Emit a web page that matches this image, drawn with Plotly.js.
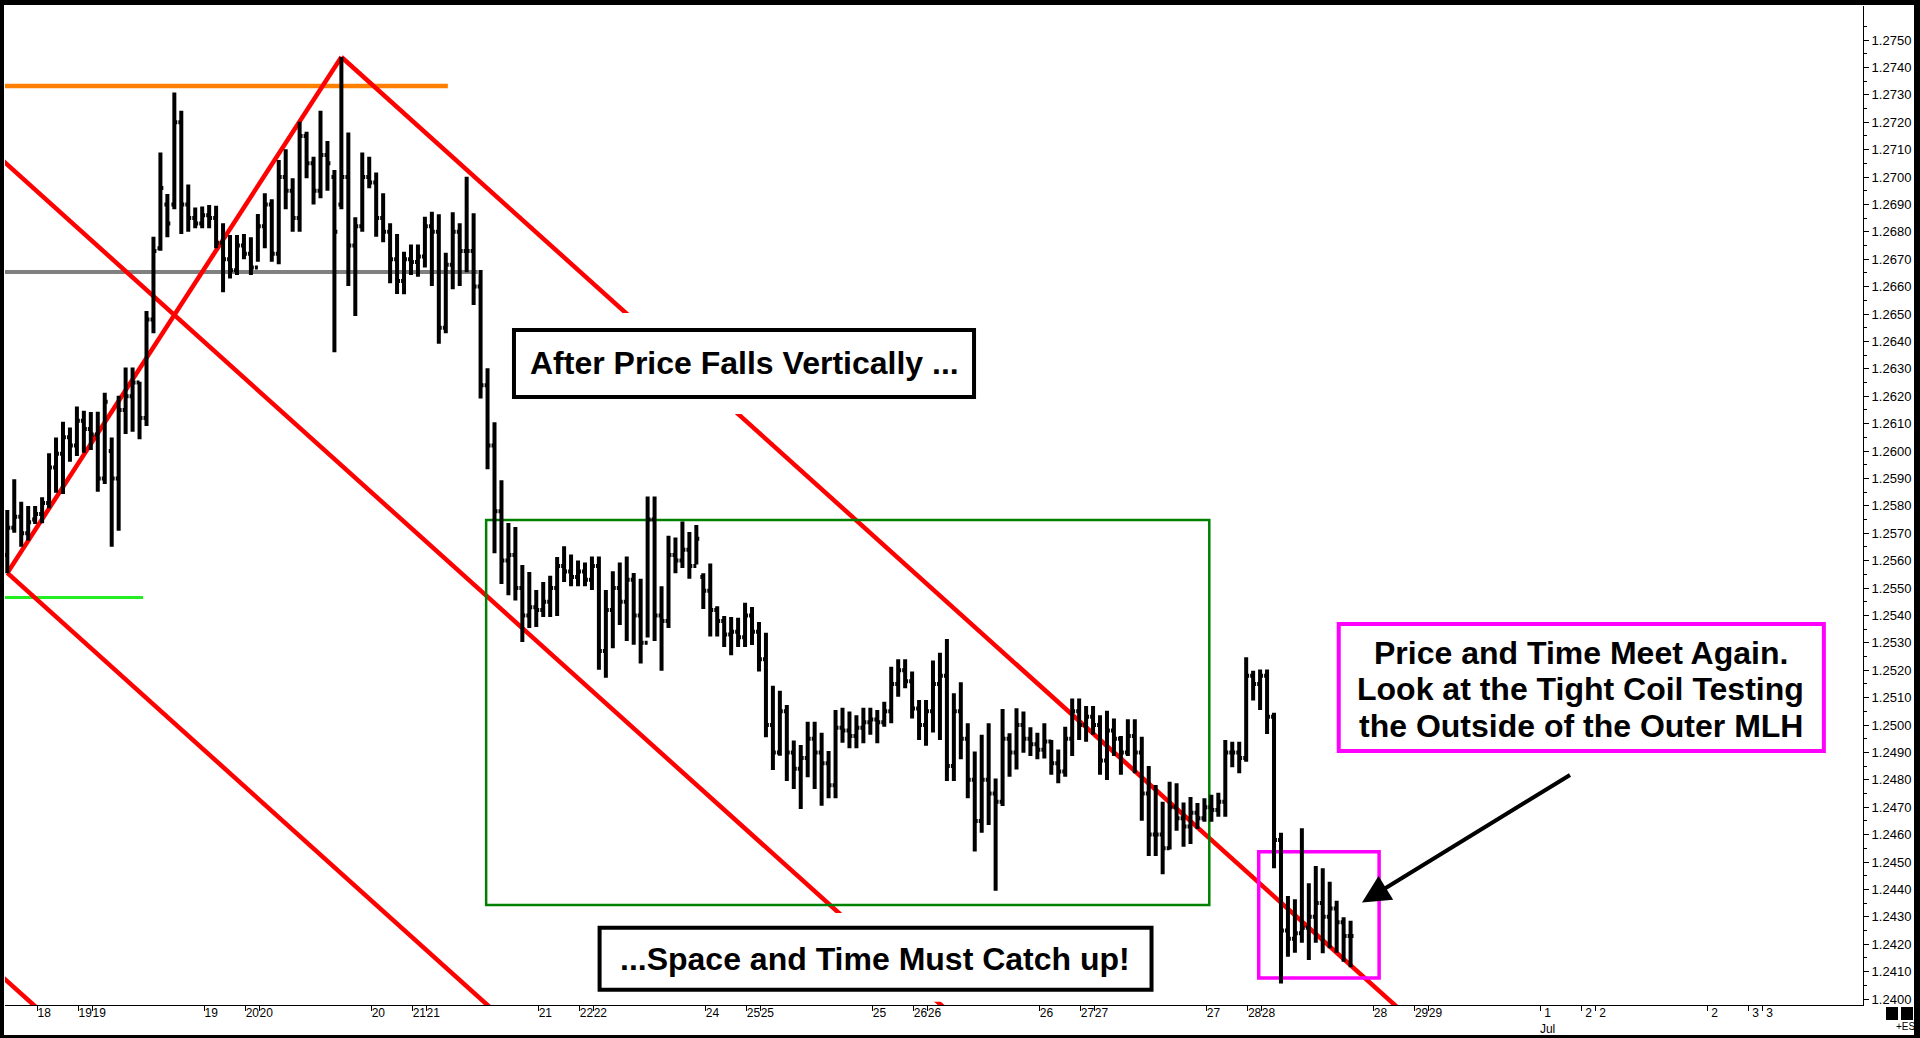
<!DOCTYPE html>
<html><head><meta charset="utf-8">
<script src="https://cdn.plot.ly/plotly-3.0.1.min.js"></script>
<style>html,body{margin:0;padding:0;background:#fff;overflow:hidden}#chart{width:1920px;height:1038px}</style>
</head><body><div id="chart"></div>
<script>
// ---------- hourly OHLC bars ----------
const highs = [
1.25785,1.25897,1.25815,1.25799,1.25799,1.25831,1.25992,1.26049,1.26107,1.26086,
1.26162,1.26147,1.26142,1.26143,1.26213,1.26049,1.26202,1.26305,1.26305,1.26253,
1.26511,1.26782,1.27089,1.26938,1.27308,1.27242,1.26973,1.26889,1.26892,1.26898,
1.26895,1.26831,1.26788,1.26788,1.26792,1.26780,1.26865,1.26941,1.26919,1.27062,
1.27101,1.26995,1.27202,1.27165,1.27074,1.27242,1.27131,1.27026,1.27438,1.27162,
1.26853,1.27089,1.27074,1.27016,1.26941,1.26831,1.26792,1.26727,1.26754,1.26754,
1.26855,1.26873,1.26864,1.26724,1.26871,1.26831,1.27001,1.26868,1.26661,1.26302,
1.26105,1.25893,1.25737,1.25723,1.25584,1.25558,1.25493,1.25522,1.25545,1.25613,
1.25652,1.25622,1.25600,1.25593,1.25615,1.25615,1.25493,1.25561,1.25593,1.25615,
1.25555,1.25534,1.25834,1.25834,1.25506,1.25691,1.25684,1.25743,1.25704,1.25730,
1.25554,1.25589,1.25433,1.25398,1.25394,1.25391,1.25446,1.25431,1.25376,1.25337,
1.25143,1.25125,1.25073,1.24943,1.24927,1.25012,1.25012,1.24972,1.24905,1.25055,
1.25063,1.25049,1.25036,1.25063,1.25063,1.25055,1.25085,1.25213,1.25240,1.25240,
1.25195,1.25091,1.25091,1.25235,1.25264,1.25314,1.25116,1.25156,1.25006,1.24903,
1.24964,1.25006,1.24805,1.25058,1.24970,1.25061,1.25049,1.24992,1.24972,1.25006,
1.24945,1.24911,1.24994,1.25097,1.25097,1.25069,1.25069,1.25036,1.25052,1.25024,
1.24960,1.25021,1.25021,1.24957,1.24850,1.24781,1.24720,1.24793,1.24787,1.24717,
1.24737,1.24715,1.24733,1.24745,1.24753,1.24945,1.24939,1.24939,1.25247,1.25198,
1.25203,1.25203,1.25045,1.24607,1.24376,1.24364,1.24623,1.24422,1.24485,1.24477,
1.24428,1.24359,1.24298,1.24286];
const lows = [
1.25554,1.25702,1.25651,1.25673,1.25734,1.25736,1.25791,1.25848,1.25843,1.25961,
1.25982,1.25994,1.26004,1.25851,1.25880,1.25651,1.25709,1.26062,1.26070,1.26043,
1.26091,1.26430,1.26731,1.26780,1.26882,1.26792,1.26800,1.26813,1.26813,1.26813,
1.26740,1.26579,1.26630,1.26642,1.26700,1.26642,1.26691,1.26740,1.26691,1.26682,
1.26882,1.26800,1.26800,1.26995,1.26900,1.26922,1.26950,1.26360,1.26882,1.26602,
1.26493,1.26800,1.26959,1.26782,1.26762,1.26612,1.26573,1.26572,1.26642,1.26636,
1.26670,1.26602,1.26391,1.26430,1.26590,1.26602,1.26652,1.26533,1.26192,1.25933,
1.25627,1.25515,1.25474,1.25454,1.25303,1.25354,1.25358,1.25394,1.25394,1.25398,
1.25522,1.25506,1.25506,1.25506,1.25493,1.25202,1.25172,1.25280,1.25365,1.25307,
1.25293,1.25224,1.25319,1.25307,1.25198,1.25354,1.25554,1.25573,1.25534,1.25586,
1.25423,1.25323,1.25323,1.25285,1.25255,1.25285,1.25285,1.25292,1.25195,1.24955,
1.24836,1.24888,1.24796,1.24766,1.24693,1.24809,1.24766,1.24705,1.24733,1.24733,
1.24935,1.24915,1.24915,1.24933,1.24964,1.24933,1.24994,1.25006,1.25103,1.25134,
1.25024,1.24945,1.24924,1.24973,1.24945,1.24796,1.24796,1.24875,1.24733,1.24538,
1.24607,1.24635,1.24395,1.24704,1.24811,1.24838,1.24899,1.24887,1.24875,1.24878,
1.24818,1.24787,1.24811,1.24887,1.24945,1.24939,1.24964,1.24818,1.24799,1.24887,
1.24818,1.24887,1.24824,1.24651,1.24522,1.24522,1.24455,1.24546,1.24614,1.24556,
1.24566,1.24620,1.24647,1.24647,1.24665,1.24665,1.24846,1.24824,1.24866,1.25089,
1.25055,1.24967,1.24477,1.24057,1.24154,1.24169,1.24205,1.24142,1.24205,1.24167,
1.24185,1.24169,1.24136,1.24116];
const opens = [
1.25620,1.25720,1.25760,1.25700,1.25750,1.25770,1.25810,1.25940,1.25990,1.26050,
1.26020,1.26110,1.26080,1.26060,1.25900,1.26000,1.25900,1.26150,1.26200,1.26250,
1.26120,1.26480,1.26740,1.26900,1.26900,1.27200,1.26900,1.26850,1.26830,1.26860,
1.26850,1.26760,1.26700,1.26660,1.26750,1.26720,1.26670,1.26820,1.26900,1.26720,
1.27000,1.26950,1.26850,1.27150,1.27050,1.26950,1.27080,1.27000,1.26900,1.27000,
1.26750,1.26820,1.27000,1.26980,1.26850,1.26800,1.26700,1.26620,1.26700,1.26690,
1.26710,1.26820,1.26800,1.26450,1.26680,1.26800,1.26730,1.26730,1.26600,1.26240,
1.26020,1.25780,1.25600,1.25620,1.25500,1.25400,1.25430,1.25420,1.25450,1.25500,
1.25580,1.25560,1.25540,1.25560,1.25530,1.25580,1.25270,1.25420,1.25500,1.25450,
1.25530,1.25400,1.25300,1.25750,1.25400,1.25380,1.25620,1.25600,1.25640,1.25580,
1.25540,1.25490,1.25420,1.25380,1.25330,1.25340,1.25320,1.25400,1.25340,1.25240,
1.25000,1.24900,1.25050,1.24900,1.24840,1.24880,1.24950,1.24900,1.24860,1.24780,
1.24990,1.24980,1.24960,1.24990,1.25010,1.25020,1.25010,1.25050,1.25150,1.25200,
1.25160,1.25060,1.25000,1.25050,1.25150,1.25180,1.24850,1.25050,1.24950,1.24800,
1.24650,1.24800,1.24750,1.24720,1.24950,1.24900,1.25000,1.24950,1.24930,1.24910,
1.24940,1.24860,1.24830,1.24950,1.25050,1.25000,1.25030,1.25000,1.24870,1.24980,
1.24950,1.24900,1.24960,1.24900,1.24750,1.24600,1.24600,1.24550,1.24700,1.24660,
1.24630,1.24680,1.24660,1.24700,1.24690,1.24720,1.24900,1.24900,1.24880,1.25180,
1.25150,1.25180,1.25030,1.24580,1.24250,1.24220,1.24240,1.24260,1.24300,1.24350,
1.24300,1.24330,1.24280,1.24230];
const closes = [
1.25720,1.25760,1.25700,1.25740,1.25770,1.25810,1.25940,1.25990,1.26050,1.26020,
1.26110,1.26080,1.26060,1.25900,1.26180,1.25900,1.26150,1.26200,1.26250,1.26120,
1.26480,1.26730,1.26960,1.26830,1.27200,1.26900,1.26850,1.26830,1.26860,1.26850,
1.26760,1.26700,1.26660,1.26750,1.26720,1.26670,1.26820,1.26900,1.26720,1.27000,
1.26950,1.26850,1.27150,1.27050,1.26950,1.27080,1.27050,1.26800,1.27000,1.26750,
1.26820,1.27000,1.26980,1.26850,1.26800,1.26700,1.26620,1.26700,1.26690,1.26710,
1.26820,1.26800,1.26450,1.26680,1.26800,1.26730,1.26730,1.26600,1.26240,1.26020,
1.25780,1.25600,1.25620,1.25500,1.25400,1.25430,1.25420,1.25450,1.25500,1.25580,
1.25560,1.25540,1.25560,1.25530,1.25580,1.25270,1.25420,1.25500,1.25450,1.25530,
1.25400,1.25300,1.25750,1.25400,1.25380,1.25620,1.25600,1.25640,1.25580,1.25680,
1.25490,1.25420,1.25380,1.25330,1.25340,1.25320,1.25400,1.25340,1.25240,1.25000,
1.24900,1.25050,1.24900,1.24840,1.24880,1.24950,1.24900,1.24860,1.24780,1.24990,
1.24980,1.24960,1.24990,1.25010,1.25020,1.25010,1.25050,1.25150,1.25200,1.25160,
1.25060,1.25000,1.25050,1.25150,1.25180,1.24850,1.25050,1.24950,1.24800,1.24650,
1.24800,1.24750,1.24720,1.24950,1.24900,1.25000,1.24950,1.24930,1.24910,1.24940,
1.24860,1.24830,1.24950,1.25050,1.25000,1.25030,1.25000,1.24870,1.24980,1.24950,
1.24900,1.24960,1.24900,1.24750,1.24600,1.24600,1.24550,1.24700,1.24660,1.24630,
1.24680,1.24660,1.24700,1.24690,1.24720,1.24900,1.24900,1.24880,1.25180,1.25150,
1.25180,1.25030,1.24580,1.24250,1.24220,1.24240,1.24260,1.24300,1.24350,1.24300,
1.24330,1.24280,1.24230,1.24230];
const barIndex = highs.map((_, i) => i);

// ---------- axis ticks ----------
const xTickVals = [4.3,10.2,12.2,28.3,34.2,36.2,52.3,58.2,60.2,76.3,82.2,84.2,100.3,106.2,108.2,
  124.3,130.2,132.2,148.3,154.2,156.2,172.3,178.2,180.2,196.3,202.2,204.2,220.3,226.2,228.2,244.3,250.2,252.2];
const xTickText = ['18','19','19','19','20','20','20','21','21','21','22','22','24','25','25',
  '25','26','26','26','27','27','27','28','28','28','29','29','1<br>Jul','2','2','2','3','3'];
const yTickVals = [1.2400,1.2410,1.2420,1.2430,1.2440,1.2450,1.2460,1.2470,1.2480,1.2490,
  1.2500,1.2510,1.2520,1.2530,1.2540,1.2550,1.2560,1.2570,1.2580,1.2590,1.2600,1.2610,1.2620,
  1.2630,1.2640,1.2650,1.2660,1.2670,1.2680,1.2690,1.2700,1.2710,1.2720,1.2730,1.2740,1.2750];

// ---------- drawn studies ----------
const pivotIdx = [0, 48];             // swing low A, swing high B
const pivotPrice = [1.25555, 1.27438];
const forkSlope = -0.0002286;         // price per bar of the parallel lines
const orangeLevel = 1.27332, orangeEnd = 63.3;
const grayLevel = 1.26653, grayEnd = 67.6;
const limeLevel = 1.25465, limeEnd = 19.5;
const greenBox = [68.8, 172.7, 1.24343, 1.25748];
const coilBox = [179.8, 197.1, 1.24077, 1.24537];
const noteTop = 'After Price Falls Vertically ...';
const noteBottom = '...Space and Time Must Catch up!';
const noteRight = ['Price and Time Meet Again.', 'Look at the Tight Coil Testing', 'the Outside of the Outer MLH'];

const FONT = 'Liberation Sans, Arial, Helvetica, sans-serif';

// plot area in pixels: left 5, right 1863, top 6, bottom 1005
const PL = 5, PR = 1863, PT = 6, PB = 1005;
const px = v => (v - PL) / (PR - PL);
const py = v => (PB - v) / (PB - PT);

const midIdx = (pivotIdx[0] + pivotIdx[1]) / 2;
const midPrice = (pivotPrice[0] + pivotPrice[1]) / 2;
const gap = (midPrice + (pivotIdx[0]-midIdx)*forkSlope) - pivotPrice[0];
function par(x0, p0, xa, xb) {
  return {x0: xa, y0: p0 + (xa - x0) * forkSlope, x1: xb, y1: p0 + (xb - x0) * forkSlope};
}
const red = {color: '#ff0000', width: 4.5};
const shapes = [];
function ln(o, line) { shapes.push(Object.assign({type: 'line', xref: 'x', yref: 'y', layer: 'below', line: line}, o)); }

ln({x0: -1, y0: orangeLevel, x1: orangeEnd, y1: orangeLevel}, {color: '#ff8000', width: 4.5});
ln({x0: -1, y0: grayLevel, x1: grayEnd, y1: grayLevel}, {color: '#808080', width: 4});
ln({x0: -1, y0: limeLevel, x1: limeEnd, y1: limeLevel}, {color: '#22ee22', width: 3});
ln({x0: pivotIdx[0], y0: pivotPrice[0], x1: pivotIdx[1], y1: pivotPrice[1]}, red);
ln(par(pivotIdx[1], pivotPrice[1], pivotIdx[1], 210), red);
ln(par(midIdx, midPrice, -2, 150), red);
ln(par(pivotIdx[0], pivotPrice[0], pivotIdx[0], 90), red);
ln(par(pivotIdx[0], pivotPrice[0] - gap, -2, 20), red);
shapes.push({type: 'rect', xref: 'x', yref: 'y', layer: 'below', x0: greenBox[0], x1: greenBox[1], y0: greenBox[2], y1: greenBox[3], line: {color: '#008000', width: 2.5}});
shapes.push({type: 'rect', xref: 'x', yref: 'y', layer: 'below', x0: coilBox[0], x1: coilBox[1], y0: coilBox[2], y1: coilBox[3], line: {color: '#ff00ff', width: 3.5}});

// text boxes (white clearance + frame)
function box(x0, x1, y0, y1, col, w) {
  shapes.push({type: 'rect', xref: 'x', yref: 'y', layer: 'above', x0, x1, y0, y1, fillcolor: '#fff', line: {color: col, width: w}});
}
function pad(x0, x1, y0, y1) {
  shapes.push({type: 'rect', xref: 'x', yref: 'y', layer: 'above', x0, x1, y0, y1, fillcolor: '#fff', line: {width: 0}});
}
pad(70.8, 141.2, 1.26135, 1.26504);
box(72.8, 138.9, 1.26197, 1.26442, '#000', 4);
pad(82.7, 166.8, 1.23990, 1.24314);
box(85.1, 164.4, 1.24034, 1.24260, '#000', 4);
box(191.3, 261.0, 1.24905, 1.25369, '#ff00ff', 4);

// frame around the picture (pixel rectangles)
function prect(x0, x1, y0, y1) {
  shapes.push({type: 'rect', xref: 'paper', yref: 'paper', layer: 'above',
    x0: px(x0), x1: px(x1), y0: py(y1), y1: py(y0), fillcolor: '#000', line: {width: 0}});
}
prect(-2, 1922, -2, 5);
prect(-2, 4, -2, 1040);
prect(1914, 1922, -2, 1040);
prect(-2, 1922, 1035, 1040);
prect(1886, 1898, 1007, 1020);
prect(1901, 1913, 1007, 1020);

const bold = {family: FONT, size: 32, color: '#000', weight: 700};
const annotations = [
  {xref: 'x', yref: 'y', x: 105.85, y: 1.26321, text: noteTop, showarrow: false, font: bold},
  {xref: 'x', yref: 'y', x: 124.74, y: 1.24147, text: noteBottom, showarrow: false, font: bold},
  {xref: 'x', yref: 'y', x: 226.1, y: 1.25264, text: noteRight[0], showarrow: false, font: bold},
  {xref: 'x', yref: 'y', x: 226.1, y: 1.25130, text: noteRight[1], showarrow: false, font: bold},
  {xref: 'x', yref: 'y', x: 226.1, y: 1.24996, text: noteRight[2], showarrow: false, font: bold},
  {xref: 'x', yref: 'y', x: 194.64, y: 1.24352, ax: 224.74, ay: 1.24821, axref: 'x', ayref: 'y',
   text: '', showarrow: true, arrowhead: 2, arrowsize: 1.4, arrowwidth: 4, arrowcolor: '#000', standoff: 0},
  {xref: 'paper', yref: 'paper', x: px(1906), y: py(1026), xanchor: 'center', yanchor: 'middle',
   text: '+ES', showarrow: false, font: {family: FONT, size: 10, color: '#000'}}
];

const trace = {
  type: 'ohlc', x: barIndex, open: opens, high: highs, low: lows, close: closes,
  increasing: {line: {color: '#000', width: 4}},
  decreasing: {line: {color: '#000', width: 4}},
  tickwidth: 0.42, hoverinfo: 'skip', showlegend: false
};

const layout = {
  width: 1920, height: 1038,
  margin: {l: PL, r: 1920 - PR, t: PT, b: 1038 - PB, pad: 0},
  paper_bgcolor: '#fff', plot_bgcolor: '#fff',
  showlegend: false,
  xaxis: {
    range: [-0.33, -0.33 + (PR - PL) / 6.96], tickmode: 'array', tickvals: xTickVals, ticktext: xTickText,
    tickangle: 0, ticks: 'outside', ticklen: 5, tickcolor: '#000', showline: true, linecolor: '#000', linewidth: 1,
    showgrid: false, zeroline: false, ticklabelshift: 7, ticklabelstandoff: -8,
    tickfont: {family: FONT, size: 12, color: '#000'}, rangeslider: {visible: false}, fixedrange: true
  },
  yaxis: {
    range: [1.239781, 1.276241], side: 'right', tickmode: 'array', tickvals: yTickVals, tickformat: '.4f',
    ticks: 'outside', ticklen: 5, tickcolor: '#000', showline: true, linecolor: '#000', linewidth: 1,
    showgrid: false, zeroline: false, tickfont: {family: FONT, size: 13, color: '#000'}, fixedrange: true,
    minor: {tickmode: 'linear', tick0: 1.2405, dtick: 0.001, ticks: 'outside', ticklen: 3, tickcolor: '#000'}
  },
  shapes: shapes,
  annotations: annotations
};

Plotly.newPlot('chart', [trace], layout, {staticPlot: true, displayModeBar: false});
</script>
</body></html>
